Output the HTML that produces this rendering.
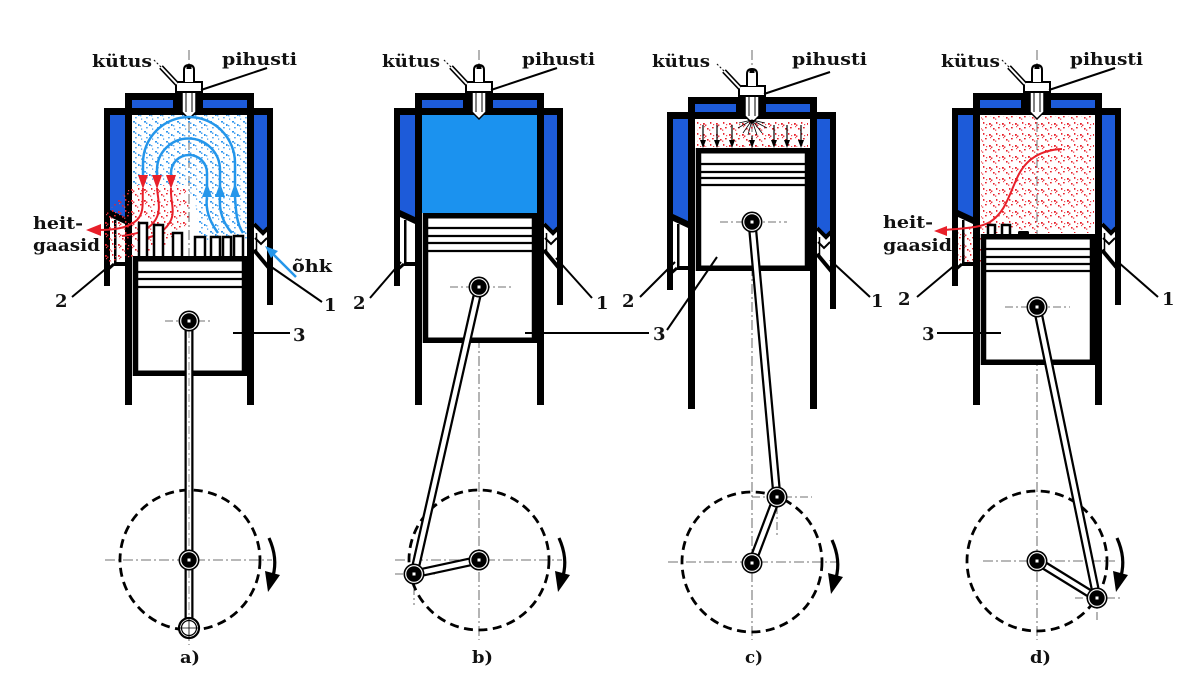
<!DOCTYPE html>
<html><head><meta charset="utf-8"><style>
html,body{margin:0;padding:0;background:#fff;}
svg{display:block;}
text{font-family:"DejaVu Serif","Liberation Serif",serif;font-weight:bold;fill:#111;}
</style></head><body>
<svg width="1200" height="700" viewBox="0 0 1200 700" xmlns="http://www.w3.org/2000/svg">
<defs>
 <pattern id="bd" width="11" height="10" patternUnits="userSpaceOnUse">
  <rect x="1" y="1" width="2" height="1.6" fill="#2f95ee"/>
  <rect x="3" y="2.5" width="1.4" height="1.4" fill="#2f95ee"/>
  <rect x="6" y="4" width="1.6" height="2" fill="#2f95ee"/>
  <rect x="8" y="5" width="1.4" height="1.4" fill="#5aaaf0"/>
  <rect x="3" y="7" width="1.8" height="1.4" fill="#5aaaf0"/>
  <rect x="9" y="8.5" width="1.2" height="1.2" fill="#2f95ee"/>
 </pattern>
 <pattern id="rd" width="13" height="11" patternUnits="userSpaceOnUse">
  <rect x="1" y="2" width="1.8" height="1.8" fill="#e8202a"/>
  <rect x="3" y="3.5" width="1.4" height="1.4" fill="#e8202a"/>
  <rect x="2" y="5" width="1.2" height="1.2" fill="#f04a55"/>
  <rect x="5" y="7" width="1.6" height="1.6" fill="#e8202a"/>
  <rect x="7" y="8.5" width="1.3" height="1.3" fill="#f04a55"/>
  <rect x="8" y="1" width="1.4" height="1.8" fill="#e8202a"/>
  <rect x="10" y="6" width="1.7" height="1.4" fill="#e8202a"/>
  <rect x="11" y="3" width="1.2" height="1.2" fill="#f04a55"/>
 </pattern>
 <g id="cyl">
  <rect x="-64" y="93" width="128" height="22" fill="#000"/>
  <rect x="-57" y="100" width="41" height="8" fill="#1d5bd9"/>
  <rect x="14" y="100" width="44" height="8" fill="#1d5bd9"/>
  <rect x="-64" y="93" width="7" height="312" fill="#000"/>
  <rect x="58" y="93" width="7" height="312" fill="#000"/>
  <!-- left jacket -->
  <rect x="-85" y="108" width="22" height="7" fill="#000"/>
  <rect x="-85" y="108" width="6" height="178" fill="#000"/>
  <polygon points="-79,115 -64,115 -64,218 -79,211" fill="#1d5bd9"/>
  <polygon points="-85,208 -79,210 -64,217 -64,224 -79,217 -85,215" fill="#000"/>
  <rect x="-75" y="220" width="2.5" height="44" fill="#000"/>
  <rect x="-75" y="262" width="11" height="4" fill="#000"/>
  <line x1="-84" y1="272" x2="-75" y2="264" stroke="#000" stroke-width="3"/>
  <!-- right jacket -->
  <rect x="65" y="108" width="19" height="7" fill="#000"/>
  <rect x="78" y="108" width="6" height="197" fill="#000"/>
  <polygon points="65,115 78,115 78,226 74,232 65,223" fill="#1d5bd9"/>
  <polyline points="65,224 74,233 80,227" fill="none" stroke="#000" stroke-width="4"/>
  <polyline points="66,238 72,244 78,238" fill="none" stroke="#000" stroke-width="2"/>
  <line x1="65" y1="250" x2="80" y2="268" stroke="#000" stroke-width="4"/>
  <line x1="67.5" y1="233" x2="67.5" y2="252" stroke="#000" stroke-width="1.5"/>
  <!-- injector -->
  <path d="M-7,92 H7 V112 L0,119 L-7,112 Z" fill="#fff" stroke="#000" stroke-width="1.5"/>
  <line x1="-3" y1="93" x2="-3" y2="112" stroke="#000" stroke-width="1"/>
  <line x1="3" y1="93" x2="3" y2="112" stroke="#000" stroke-width="1"/>
  <rect x="-13" y="82" width="26" height="10" fill="#fff" stroke="#000" stroke-width="2"/>
  <path d="M-5,82 V70 Q-5,65 0,65 Q5,65 5,70 V82" fill="#fff" stroke="#000" stroke-width="2"/>
  <rect x="-2.5" y="66" width="5" height="3" fill="#000"/>
  <!-- fuel pipe -->
  <line x1="-12" y1="84" x2="-28" y2="67" stroke="#000" stroke-width="5"/>
  <line x1="-12" y1="84" x2="-28" y2="67" stroke="#fff" stroke-width="2"/>
  <line x1="-28" y1="67" x2="-36" y2="59" stroke="#000" stroke-width="1" stroke-dasharray="2,2"/>
  <!-- pihusti leader -->
  <line x1="12" y1="90" x2="78" y2="68" stroke="#000" stroke-width="2"/>
 </g>
 <g id="pin">
  <circle r="10.5" fill="#000"/>
  <circle r="8.3" fill="none" stroke="#fff" stroke-width="1.2"/>
  <rect x="-1.5" y="-1.5" width="3" height="3" fill="#fff"/>
 </g>
 <g id="rot">
  <path d="M80,538 Q89,558 84,576" fill="none" stroke="#000" stroke-width="3.2"/>
  <polygon points="76,571 91,575 79,592" fill="#000"/>
 </g>
</defs>

<!-- ===== centerlines ===== -->
<g stroke="#444" stroke-width="0.8" stroke-dasharray="10,3,2,3" fill="none">
 <line x1="189" y1="50" x2="189" y2="645"/>
 <line x1="479" y1="50" x2="479" y2="640"/>
 <line x1="752" y1="50" x2="752" y2="640"/>
 <line x1="1037" y1="50" x2="1037" y2="640"/>
 <line x1="105" y1="560" x2="272" y2="560"/>
 <line x1="395" y1="560" x2="562" y2="560"/>
 <line x1="668" y1="562" x2="836" y2="562"/>
 <line x1="983" y1="561" x2="1115" y2="561"/>
</g>

<!-- ===== chamber fills ===== -->
<rect x="422" y="115" width="115" height="98" fill="#1b92ef"/>
<polygon points="132,115 247,115 247,240 200,240 195,200 185,185 132,185" fill="url(#bd)"/>
<rect x="697" y="121" width="111" height="26" fill="url(#rd)"/>
<rect x="981" y="116" width="113" height="117" fill="url(#rd)"/>
<polygon points="958,228 981,222 981,262 958,262" fill="url(#rd)"/>

<!-- ===== cylinders ===== -->
<use href="#cyl" transform="translate(189,0)"/>
<use href="#cyl" transform="translate(479,0)"/>
<use href="#cyl" transform="translate(752,4)"/>
<use href="#cyl" transform="translate(1037,0)"/>

<!-- ===== panel a flows ===== -->
<polygon points="104,216 132,185 185,185 190,215 180,240 135,256 110,262 104,262" fill="url(#rd)"/>
<g fill="none" stroke="#2596ea" stroke-width="2.5">
 <path d="M143,177 V163 A46,46 0 0 1 235,163 V190"/>
 <path d="M157,177 V170 A31.5,31.5 0 0 1 220,170 V190"/>
 <path d="M171,177 V173 A18,18 0 0 1 207,173 V190"/>
 <path d="M207,197 C205,210 210,222 218,233"/>
 <path d="M220,197 C219,210 222,222 232,233"/>
 <path d="M235,197 C236,210 236,222 243,233"/>
</g>
<g fill="#2596ea">
 <polygon points="202,197 212,197 207,183"/>
 <polygon points="215,197 225,197 220,183"/>
 <polygon points="230,197 240,197 235,183"/>
</g>
<g fill="none" stroke="#e8202a" stroke-width="2">
 <path d="M143,188 C142,200 145,212 137,220 C128,228 115,230 98,230"/>
 <path d="M157,188 C158,200 162,212 154,222 C146,232 136,234 122,236"/>
 <path d="M171,188 C170,200 176,212 170,222 C164,232 156,236 146,238"/>
</g>
<g fill="#e8202a">
 <polygon points="138,175 148,175 143,189"/>
 <polygon points="152,175 162,175 157,189"/>
 <polygon points="166,175 176,175 171,189"/>
 <polygon points="86,230 101,224 101,236"/>
</g>
<!-- fins on piston a -->
<g fill="#fff" stroke="#000" stroke-width="2.5">
 <path d="M139,256 V223 H147 V256"/>
 <path d="M154,256 V225 H163 V256"/>
 <path d="M173,256 V233 H182 V256"/>
 <path d="M195,256 V237 H205 V256"/>
 <path d="M211,256 V237 H220 V256"/>
 <path d="M223,256 V237 H231 V256"/>
 <path d="M234,256 V236 H243 V256"/>
</g>
<!-- õhk arrow -->
<line x1="296" y1="277" x2="272" y2="253" stroke="#2596ea" stroke-width="2.5"/>
<polygon points="265,246 278,251 271,258" fill="#2596ea"/>

<!-- ===== panel c spray ===== -->
<g stroke="#000" stroke-width="0.8">
 <line x1="752" y1="120" x2="738" y2="128"/>
 <line x1="752" y1="120" x2="743" y2="133"/>
 <line x1="752" y1="120" x2="748" y2="135"/>
 <line x1="752" y1="120" x2="757" y2="135"/>
 <line x1="752" y1="120" x2="762" y2="133"/>
 <line x1="752" y1="120" x2="767" y2="128"/>
 <line x1="752" y1="120" x2="739" y2="123"/>
 <line x1="752" y1="120" x2="765" y2="123"/>
</g>
<g stroke="#000" stroke-width="1.2">
 <line x1="703" y1="125" x2="703" y2="141"/>
 <line x1="717" y1="125" x2="717" y2="141"/>
 <line x1="732" y1="125" x2="732" y2="141"/>
 <line x1="752" y1="136" x2="752" y2="141"/>
 <line x1="774" y1="125" x2="774" y2="141"/>
 <line x1="787" y1="125" x2="787" y2="141"/>
 <line x1="801" y1="125" x2="801" y2="141"/>
</g>
<g fill="#000">
 <polygon points="700,140 706,140 703,148"/>
 <polygon points="714,140 720,140 717,148"/>
 <polygon points="729,140 735,140 732,148"/>
 <polygon points="749,140 755,140 752,148"/>
 <polygon points="771,140 777,140 774,148"/>
 <polygon points="784,140 790,140 787,148"/>
 <polygon points="798,140 804,140 801,148"/>
</g>

<!-- ===== panel d flow ===== -->
<path d="M1062,149 C1040,150 1025,160 1017,178 C1008,198 1005,212 990,222 C980,228 965,228 945,230" fill="none" stroke="#e8202a" stroke-width="2"/>
<polygon points="934,231 947,226 947,236" fill="#e8202a"/>
<g fill="#fff" stroke="#000" stroke-width="2.5">
 <path d="M988,234 V225 H995 V234"/>
 <path d="M1002,234 V225 H1010 V234"/>
</g>
<rect x="1018" y="231" width="11" height="4" rx="1.5" fill="#000"/>

<!-- ===== pistons ===== -->
<g fill="#fff" stroke="#000" stroke-width="5.5">
 <rect x="135.5" y="258.75" width="109" height="114.5"/>
 <rect x="425.5" y="215.75" width="109" height="124.5"/>
 <rect x="698.5" y="150.75" width="109" height="117.5"/>
 <rect x="983.5" y="236.75" width="109" height="125.5"/>
</g>
<g stroke="#000" stroke-width="2.2">
 <line x1="133" y1="272" x2="247" y2="272"/>
 <line x1="133" y1="279" x2="247" y2="279"/>
 <line x1="133" y1="287" x2="247" y2="287"/>
 <line x1="423" y1="228" x2="537" y2="228"/>
 <line x1="423" y1="236" x2="537" y2="236"/>
 <line x1="423" y1="243" x2="537" y2="243"/>
 <line x1="423" y1="251" x2="537" y2="251"/>
 <line x1="696" y1="164" x2="810" y2="164"/>
 <line x1="696" y1="172" x2="810" y2="172"/>
 <line x1="696" y1="178" x2="810" y2="178"/>
 <line x1="696" y1="185" x2="810" y2="185"/>
 <line x1="981" y1="249" x2="1095" y2="249"/>
 <line x1="981" y1="257" x2="1095" y2="257"/>
 <line x1="981" y1="264" x2="1095" y2="264"/>
 <line x1="981" y1="271" x2="1095" y2="271"/>
</g>
<!-- wrist pin axis lines -->
<g stroke="#444" stroke-width="0.8" stroke-dasharray="8,3,2,3">
 <line x1="165" y1="321" x2="213" y2="321"/>
 <line x1="450" y1="287" x2="513" y2="287"/>
 <line x1="720" y1="222" x2="787" y2="222"/>
 <line x1="1005" y1="307" x2="1070" y2="307"/>
 <line x1="395" y1="574" x2="435" y2="574"/>
 <line x1="414" y1="555" x2="414" y2="605"/>
 <line x1="752" y1="497" x2="812" y2="497"/>
 <line x1="777" y1="490" x2="777" y2="537"/>
 <line x1="1075" y1="598" x2="1122" y2="598"/>
 <line x1="1097" y1="580" x2="1097" y2="620"/>
</g>

<!-- ===== crank circles ===== -->
<g fill="none" stroke="#000" stroke-width="2.8" stroke-dasharray="9,5.5">
 <circle cx="190" cy="560" r="70"/>
 <circle cx="479" cy="560" r="70"/>
 <circle cx="752" cy="562" r="70"/>
 <circle cx="1037" cy="561" r="70"/>
</g>
<use href="#rot" transform="translate(189,0)"/>
<use href="#rot" transform="translate(479,0)"/>
<use href="#rot" transform="translate(752,2)"/>
<use href="#rot" transform="translate(1037,0)"/>

<!-- ===== rods ===== -->
<g stroke="#000" stroke-width="9" stroke-linecap="round">
 <line x1="189" y1="321" x2="189" y2="628"/>
 <line x1="479" y1="287" x2="414" y2="574"/>
 <line x1="479" y1="560" x2="414" y2="574"/>
 <line x1="752" y1="222" x2="777" y2="497"/>
 <line x1="752" y1="563" x2="777" y2="497"/>
 <line x1="1037" y1="307" x2="1097" y2="598"/>
 <line x1="1037" y1="561" x2="1097" y2="598"/>
</g>
<g stroke="#fff" stroke-width="4.5">
 <line x1="189" y1="321" x2="189" y2="628"/>
 <line x1="479" y1="287" x2="414" y2="574"/>
 <line x1="479" y1="560" x2="414" y2="574"/>
 <line x1="752" y1="222" x2="777" y2="497"/>
 <line x1="752" y1="563" x2="777" y2="497"/>
 <line x1="1037" y1="307" x2="1097" y2="598"/>
 <line x1="1037" y1="561" x2="1097" y2="598"/>
</g>
<line x1="189" y1="330" x2="189" y2="620" stroke="#666" stroke-width="0.7" stroke-dasharray="8,3,2,3"/>

<!-- ===== pins ===== -->
<use href="#pin" transform="translate(189,321)"/>
<use href="#pin" transform="translate(189,560)"/>
<use href="#pin" transform="translate(479,287)"/>
<use href="#pin" transform="translate(479,560)"/>
<use href="#pin" transform="translate(414,574)"/>
<use href="#pin" transform="translate(752,222)"/>
<use href="#pin" transform="translate(752,563)"/>
<use href="#pin" transform="translate(777,497)"/>
<use href="#pin" transform="translate(1037,307)"/>
<use href="#pin" transform="translate(1037,561)"/>
<use href="#pin" transform="translate(1097,598)"/>
<g>
 <circle cx="189" cy="628" r="10" fill="#fff" stroke="#000" stroke-width="2.2"/>
 <circle cx="189" cy="628" r="7.5" fill="none" stroke="#000" stroke-width="1.2"/>
 <line x1="179" y1="628" x2="199" y2="628" stroke="#000" stroke-width="0.8"/>
 <line x1="189" y1="618" x2="189" y2="638" stroke="#000" stroke-width="0.8"/>
</g>

<!-- ===== leaders ===== -->
<g stroke="#000" stroke-width="2" fill="none">
 <line x1="72" y1="297" x2="108" y2="267"/>
 <line x1="322" y1="302" x2="270" y2="266"/>
 <line x1="233" y1="333" x2="290" y2="333"/>
 <line x1="370" y1="298" x2="401" y2="262"/>
 <line x1="592" y1="298" x2="556" y2="258"/>
 <line x1="525" y1="333" x2="649" y2="333"/>
 <line x1="667" y1="330" x2="717" y2="257"/>
 <line x1="640" y1="297" x2="675" y2="262"/>
 <line x1="870" y1="297" x2="830" y2="260"/>
 <line x1="917" y1="297" x2="955" y2="265"/>
 <line x1="1158" y1="297" x2="1118" y2="262"/>
 <line x1="937" y1="333" x2="1001" y2="333"/>
</g>

<!-- ===== labels ===== -->
<g font-size="17">
 <text x="92" y="67" textLength="60" lengthAdjust="spacingAndGlyphs">kütus</text>
 <text x="222" y="65" textLength="75" lengthAdjust="spacingAndGlyphs">pihusti</text>
 <text x="382" y="67" textLength="58" lengthAdjust="spacingAndGlyphs">kütus</text>
 <text x="522" y="65" textLength="73" lengthAdjust="spacingAndGlyphs">pihusti</text>
 <text x="652" y="67" textLength="58" lengthAdjust="spacingAndGlyphs">kütus</text>
 <text x="792" y="65" textLength="75" lengthAdjust="spacingAndGlyphs">pihusti</text>
 <text x="941" y="67" textLength="59" lengthAdjust="spacingAndGlyphs">kütus</text>
 <text x="1070" y="65" textLength="73" lengthAdjust="spacingAndGlyphs">pihusti</text>
 <text x="33" y="229" textLength="50" lengthAdjust="spacingAndGlyphs">heit-</text>
 <text x="33" y="251" textLength="67" lengthAdjust="spacingAndGlyphs">gaasid</text>
 <text x="883" y="228" textLength="50" lengthAdjust="spacingAndGlyphs">heit-</text>
 <text x="883" y="251" textLength="69" lengthAdjust="spacingAndGlyphs">gaasid</text>
 <text x="292" y="272" textLength="40" lengthAdjust="spacingAndGlyphs">õhk</text>
 <text x="180" y="663" textLength="20" lengthAdjust="spacingAndGlyphs">a)</text>
 <text x="472" y="663" textLength="21" lengthAdjust="spacingAndGlyphs">b)</text>
 <text x="745" y="663" textLength="18" lengthAdjust="spacingAndGlyphs">c)</text>
 <text x="1030" y="663" textLength="21" lengthAdjust="spacingAndGlyphs">d)</text>
</g>
<g font-size="18">
 <text x="55" y="307">2</text>
 <text x="324" y="311">1</text>
 <text x="293" y="341">3</text>
 <text x="353" y="309">2</text>
 <text x="596" y="309">1</text>
 <text x="653" y="340">3</text>
 <text x="622" y="307">2</text>
 <text x="871" y="307">1</text>
 <text x="898" y="305">2</text>
 <text x="1162" y="305">1</text>
 <text x="922" y="340">3</text>
</g>
</svg>
</body></html>
